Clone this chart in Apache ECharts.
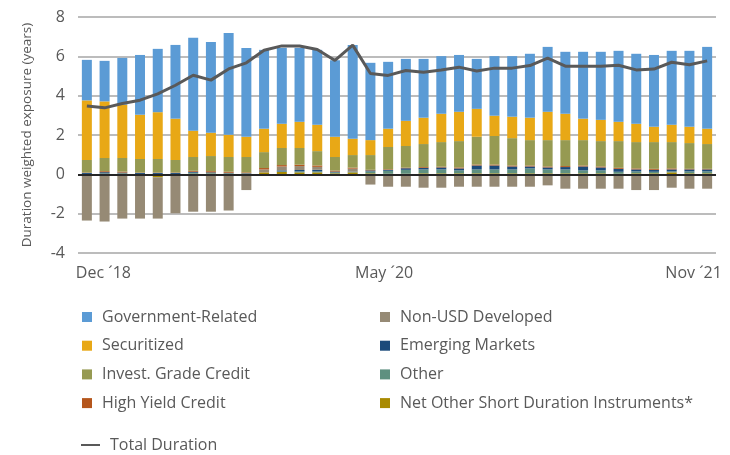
<!DOCTYPE html>
<html>
<head>
<meta charset="utf-8">
<script src="https://cdn.jsdelivr.net/npm/echarts@6/dist/echarts.min.js"></script>
<style>
  html, body { margin: 0; padding: 0; background: #fff; }
  #chart { width: 730px; height: 455px; }
</style>
</head>
<body>
<div id="chart"></div>
<script>
// month categories, Dec '18 .. Nov '21
const months = [
  'Dec ´18', 'Jan ´19', 'Feb ´19', 'Mar ´19', 'Apr ´19', 'May ´19', 'Jun ´19', 'Jul ´19', 'Aug ´19', 'Sep ´19', 'Oct ´19', 'Nov ´19', 'Dec ´19',
  'Jan ´20', 'Feb ´20', 'Mar ´20', 'Apr ´20', 'May ´20', 'Jun ´20', 'Jul ´20', 'Aug ´20', 'Sep ´20', 'Oct ´20', 'Nov ´20', 'Dec ´20',
  'Jan ´21', 'Feb ´21', 'Mar ´21', 'Apr ´21', 'May ´21', 'Jun ´21', 'Jul ´21', 'Aug ´21', 'Sep ´21', 'Oct ´21', 'Nov ´21'
];
const labelledMonths = [0, 17, 35];

// duration weighted exposure (years) per sector
const govRelated = [2.06, 2.06, 2.38, 3.04, 3.22, 3.75, 4.72, 4.61, 5.18, 4.52, 4.01, 3.86, 3.76, 3.81, 3.89, 4.77, 3.93, 3.40,
  3.15, 2.99, 2.93, 2.89, 2.54, 3.03, 3.08, 3.25, 3.30, 3.15, 3.40, 3.46, 3.61, 3.56, 3.65, 3.76, 3.86, 4.16];
const securitized = [3.03, 2.88, 2.71, 2.25, 2.38, 2.10, 1.34, 1.19, 1.13, 1.03, 1.19, 1.23, 1.33, 1.34, 1.03, 0.83, 0.76, 0.93,
  1.28, 1.34, 1.44, 1.49, 1.42, 1.03, 1.09, 1.14, 1.44, 1.34, 1.09, 1.08, 0.98, 0.93, 0.78, 0.88, 0.83, 0.78];
const investGrade = [0.64, 0.67, 0.69, 0.69, 0.69, 0.64, 0.70, 0.77, 0.75, 0.78, 0.81, 0.87, 0.85, 0.73, 0.69, 0.64, 0.75, 1.13,
  1.10, 1.17, 1.25, 1.34, 1.41, 1.45, 1.39, 1.29, 1.34, 1.32, 1.29, 1.29, 1.36, 1.34, 1.36, 1.34, 1.31, 1.26];
const highYield = [0.02, 0.05, 0.05, 0.02, 0.02, 0.02, 0.05, 0.06, 0.05, 0.04, 0.07, 0.07, 0.07, 0.07, 0.05, 0.05, 0.03, 0.03,
  0.03, 0.04, 0.04, 0.05, 0.05, 0.05, 0.05, 0.05, 0.05, 0.05, 0.05, 0.05, 0.05, 0.05, 0.05, 0.05, 0.03, 0.03];
const nonUsdDeveloped = [-2.35, -2.40, -2.25, -2.25, -2.10, -1.98, -1.90, -1.90, -1.84, -0.80, 0.15, 0.20, 0.20, 0.15, -0.05, 0.15, -0.52, -0.63,
  -0.63, -0.68, -0.68, -0.63, -0.63, -0.63, -0.63, -0.63, -0.56, -0.73, -0.73, -0.73, -0.73, -0.80, -0.80, -0.68, -0.73, -0.73];
const emergingMarkets = [0.05, 0.06, 0.04, 0.05, 0.05, 0.05, 0.05, 0.04, 0.03, 0.02, 0.00, 0.05, 0.07, 0.08, 0.04, 0.02, 0.05, 0.05,
  0.08, 0.08, 0.10, 0.10, 0.20, 0.20, 0.15, 0.10, 0.10, 0.12, 0.20, 0.15, 0.15, 0.10, 0.10, 0.10, 0.10, 0.10];
const other = [0.02, 0.03, 0.02, 0.02, 0.02, 0.02, 0.05, 0.03, 0.02, 0.02, 0.00, 0.03, 0.05, 0.05, 0.05, 0.02, 0.10, 0.15,
  0.20, 0.20, 0.20, 0.15, 0.20, 0.20, 0.20, 0.25, 0.20, 0.20, 0.15, 0.15, 0.10, 0.10, 0.08, 0.05, 0.10, 0.10];
const netOtherShort = [0.00, 0.02, 0.03, 0.00, -0.15, 0.00, 0.03, 0.03, 0.03, 0.02, 0.10, 0.12, 0.10, 0.10, 0.05, 0.10, 0.05, 0.03,
  0.03, 0.05, 0.05, 0.05, 0.05, 0.05, 0.05, 0.05, 0.05, 0.05, 0.05, 0.05, 0.03, 0.05, 0.05, 0.10, 0.05, 0.05];
const totalDuration = [3.47, 3.38, 3.60, 3.77, 4.09, 4.53, 5.04, 4.79, 5.36, 5.67, 6.31, 6.53, 6.53, 6.35, 5.79, 6.57, 5.13, 5.03,
  5.28, 5.19, 5.30, 5.45, 5.25, 5.40, 5.40, 5.53, 5.91, 5.50, 5.50, 5.50, 5.55, 5.31, 5.35, 5.70, 5.57, 5.77];

const yTicks = { min: -4, max: 8, step: 2 };

const font = '"Open Sans", sans-serif';
const textGrey = '#595959';

function barSeries(name, data, color) {
  return {
    name: name,
    type: 'bar',
    stack: 'sectors',
    barWidth: 10,
    data: data,
    itemStyle: { color: color }
  };
}

const chartDom = document.getElementById('chart');
const myChart = echarts.init(chartDom, null, { renderer: 'canvas' });

const legendText = { color: textGrey, fontSize: 16, fontFamily: font, lineHeight: 20, padding: [0, 0, 0, 5] };

const option = {
  animation: false,
  backgroundColor: '#fff',
  grid: { left: 78, right: 14, top: 17, bottom: 202 },
  legend: [
    {
      orient: 'vertical', left: 77, top: 302, itemWidth: 10, itemHeight: 10, itemGap: 8.7,
      icon: 'rect', textStyle: legendText,
      data: ['Government-Related', 'Securitized', 'Invest. Grade Credit', 'High Yield Credit']
    },
    {
      orient: 'vertical', left: 375, top: 302, itemWidth: 10, itemHeight: 10, itemGap: 8.7,
      icon: 'rect', textStyle: legendText,
      data: ['Non-USD Developed', 'Emerging Markets', 'Other', 'Net Other Short Duration Instruments*']
    },
    {
      orient: 'vertical', left: 76, top: 430, itemWidth: 19, itemHeight: 2,
      icon: 'rect', textStyle: legendText,
      data: ['Total Duration']
    }
  ],
  xAxis: {
    type: 'category',
    data: months,
    axisLine: { show: false, onZero: false },
    axisTick: { show: false },
    axisLabel: {
      interval: (i) => labelledMonths.includes(i),
      margin: 12,
      formatter: (v, i) => (i === 0 ? '{first|' + v + '}' : i === months.length - 1 ? '{last|' + v + '}' : '{mid|' + v + '}'),
      rich: {
        first: { color: textGrey, fontSize: 16, fontFamily: font, padding: [0, 0, 0, 33] },
        mid: { color: textGrey, fontSize: 16, fontFamily: font, padding: [0, 8, 0, 0] },
        last: { color: textGrey, fontSize: 16, fontFamily: font, padding: [0, 27, 0, 0] }
      }
    }
  },
  yAxis: {
    type: 'value',
    min: yTicks.min,
    max: yTicks.max,
    interval: yTicks.step,
    name: 'Duration weighted exposure (years)',
    nameLocation: 'middle',
    nameGap: 44,
    nameTextStyle: { color: textGrey, fontSize: 13.5, fontFamily: font },
    axisLabel: { color: textGrey, fontSize: 16, fontFamily: font, margin: 13 },
    axisLine: { show: false },
    axisTick: { show: false },
    splitLine: { lineStyle: { color: '#a6a6a6', width: 1.5 } }
  },
  series: [
    barSeries('Net Other Short Duration Instruments*', netOtherShort, '#a98a00'),
    barSeries('Other', other, '#5e9080'),
    barSeries('Emerging Markets', emergingMarkets, '#1b4a7a'),
    barSeries('Non-USD Developed', nonUsdDeveloped, '#968a75'),
    barSeries('High Yield Credit', highYield, '#b5561c'),
    barSeries('Invest. Grade Credit', investGrade, '#969a52'),
    barSeries('Securitized', securitized, '#e8a816'),
    barSeries('Government-Related', govRelated, '#5b9bd5'),
    {
      name: 'Total Duration',
      type: 'line',
      data: totalDuration,
      symbol: 'none',
      z: 5,
      itemStyle: { color: '#595959' },
      lineStyle: { color: '#595959', width: 3 },
      markLine: {
        silent: true,
        symbol: 'none',
        label: { show: false },
        lineStyle: { color: '#262626', width: 2, type: 'solid' },
        data: [{ yAxis: 0 }]
      }
    }
  ]
};

option && myChart.setOption(option);
</script>
</body>
</html>
